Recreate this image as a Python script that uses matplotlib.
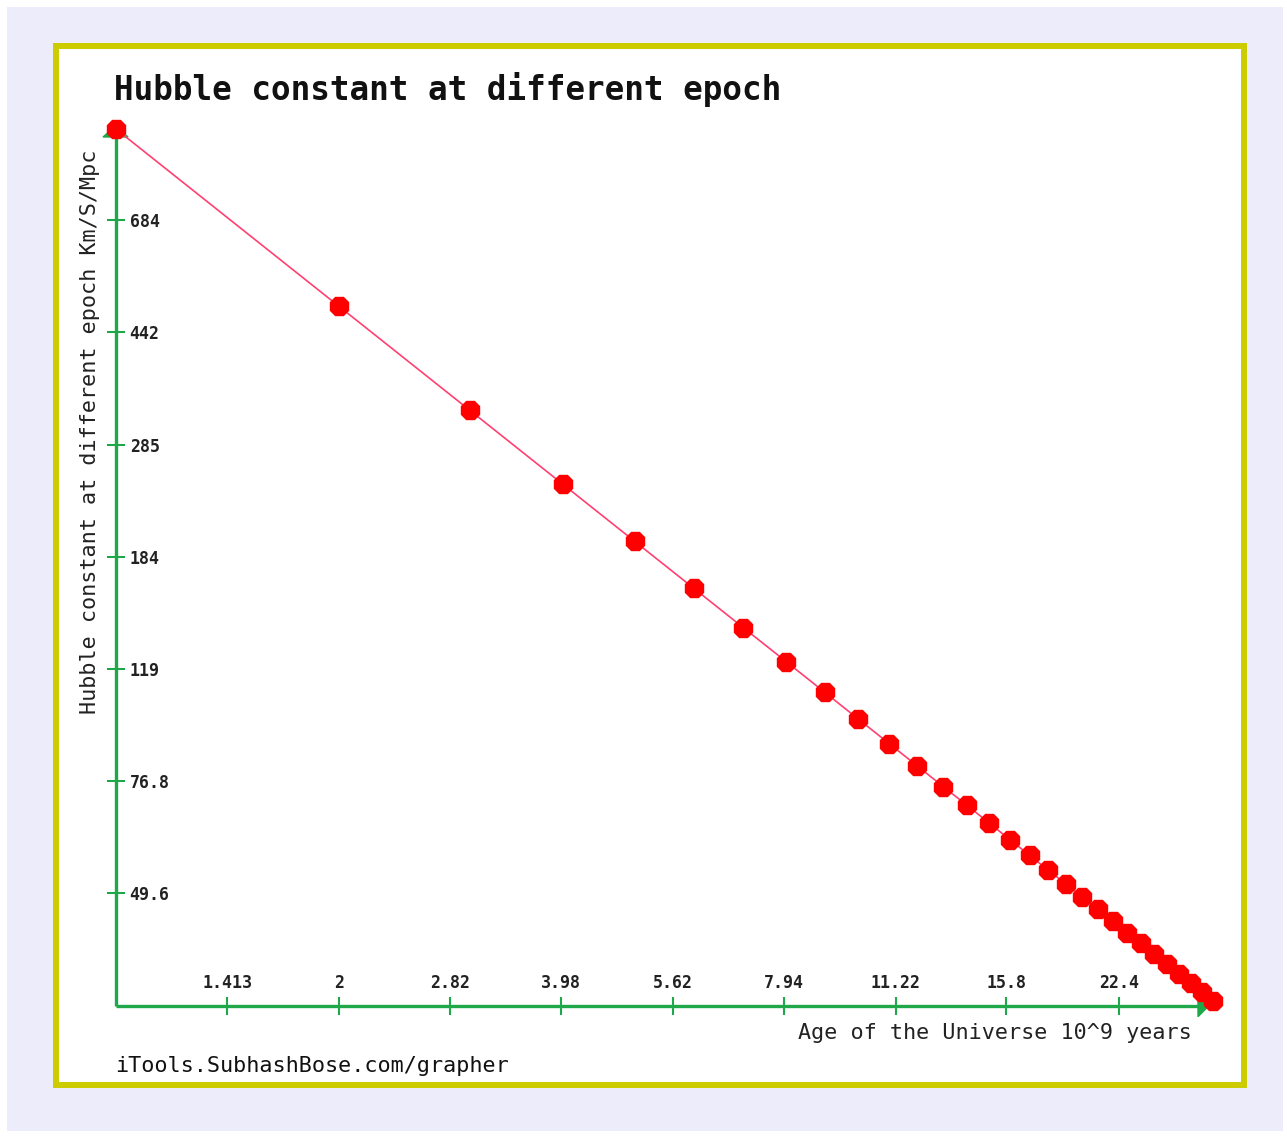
import matplotlib
matplotlib.use('Agg')
import matplotlib.pyplot as plt
from matplotlib.patches import Rectangle, Polygon
from matplotlib.ticker import NullLocator

# data (age in Gyr, H in km/s/Mpc)
age = [1, 2, 3, 4, 5, 6, 7, 8, 9, 10,
       11, 12, 13, 14, 15, 16, 17, 18, 19, 20,
       21, 22, 23, 24, 25, 26, 27, 28, 29, 30]
hubble = [978, 489, 326, 244.5, 195.6, 163, 139.7, 122.3, 108.7, 97.8,
          88.9, 81.5, 75.2, 69.9, 65.2, 61.1, 57.5, 54.3, 51.5, 48.9,
          46.6, 44.5, 42.5, 40.8, 39.1, 37.6, 36.2, 34.9, 33.7, 32.6]

x_ticks = [1.413, 2, 2.82, 3.98, 5.62, 7.94, 11.22, 15.8, 22.4]
x_tick_labels = ['1.413', '2', '2.82', '3.98', '5.62', '7.94', '11.22', '15.8', '22.4']
y_ticks = [49.6, 76.8, 119, 184, 285, 442, 684]
y_tick_labels = ['49.6', '76.8', '119', '184', '285', '442', '684']

title = 'Hubble constant at different epoch'
x_label = 'Age of the Universe 10^9 years'
y_label = 'Hubble constant at different epoch Km/S/Mpc'
credit = 'iTools.SubhashBose.com/grapher'

W, H = 1287, 1136
green = '#1fa84a'
mono = 'DejaVu Sans Mono'

def fx(px):
    return px / W

def fy(py):
    return 1 - py / H

fig = plt.figure(figsize=(W / 100, H / 100), dpi=100, facecolor='white')

# lavender page + yellow frame
fig.add_artist(Rectangle((fx(7), fy(1131)), fx(1283) - fx(7), fy(7) - fy(1131),
                         transform=fig.transFigure, facecolor='#ececfb',
                         edgecolor='none', zorder=-3))
fig.add_artist(Rectangle((fx(56), fy(1085)), fx(1244) - fx(56), fy(46) - fy(1085),
                         transform=fig.transFigure, facecolor='white',
                         edgecolor='#cccc00', linewidth=4.3, zorder=-2))

# axes box in pixels
L, R, T, B = 115.5, 1213, 128.2, 1005.7
ax = fig.add_axes([fx(L), fy(B), fx(R) - fx(L), fy(T) - fy(B)])
ax.patch.set_visible(False)
ax.set_xscale('log')
ax.set_yscale('log')
ax.set_xlim(1, 30)
ax.set_ylim(32, 980)
for s in ax.spines.values():
    s.set_visible(False)

aw, ah = R - L, B - T
# axis lines with arrow heads
ax.plot([0, (1200 - L) / aw], [0, 0], transform=ax.transAxes, color=green,
        lw=2.4, clip_on=False, solid_capstyle='butt', zorder=2)
ax.plot([0, 0], [0, (B - 135) / ah], transform=ax.transAxes, color=green,
        lw=2.4, clip_on=False, solid_capstyle='butt', zorder=2)
ax.add_patch(Polygon([((1198 - L) / aw, 11 / ah), ((1209 - L) / aw, 0), ((1198 - L) / aw, -11 / ah)],
                     closed=True, transform=ax.transAxes, color=green, clip_on=False, zorder=2))
ax.add_patch(Polygon([(-12.5 / aw, (B - 137) / ah), (0, (B - 126) / ah), (12.5 / aw, (B - 137) / ah)],
                     closed=True, transform=ax.transAxes, color=green, clip_on=False, zorder=2))

ax.plot(age, hubble, color='#ff4070', lw=1.2, marker='8', ms=14,
        mfc='red', mec='red', clip_on=False, zorder=3)

ax.set_xticks(x_ticks, x_tick_labels)
ax.set_yticks(y_ticks, y_tick_labels)
ax.xaxis.set_minor_locator(NullLocator())
ax.yaxis.set_minor_locator(NullLocator())
ax.tick_params(direction='inout', length=12.6, width=1.5, color=green,
               labelsize=12, labelcolor='#222222')
ax.tick_params(axis='x', pad=-29)
ax.tick_params(axis='y', pad=-16.5)
for lbl in ax.get_xticklabels() + ax.get_yticklabels():
    lbl.set_fontfamily(mono)
    lbl.set_fontweight('bold')
for lbl in ax.get_yticklabels():
    lbl.set_horizontalalignment('left')

ax.set_xlabel(x_label, fontsize=15.7, family=mono, color='#222222', ha='right', va='baseline')
ax.xaxis.set_label_coords((1192 - L) / aw, -(1039 - B) / ah)
ax.set_ylabel(y_label, fontsize=15.7, family=mono, color='#222222', ha='center', va='center')
ax.yaxis.set_label_coords((90 - L) / aw, (B - 432) / ah)

fig.text(fx(114), fy(100), title, fontsize=23.5, fontweight='bold', family=mono,
         color='#111111', va='baseline')
fig.text(fx(115), fy(1072), credit, fontsize=15.7, family=mono, color='#111111',
         va='baseline')

fig.savefig('out.png', dpi=100, facecolor='white')
